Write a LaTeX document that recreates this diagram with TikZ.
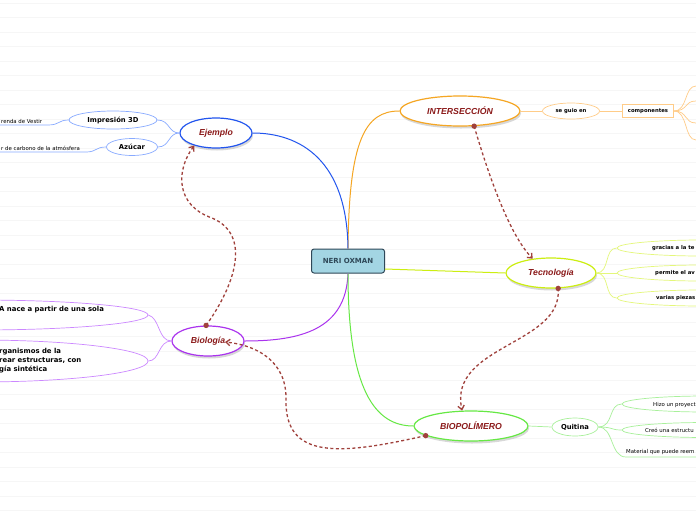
\documentclass[tikz,border=0pt]{standalone}
\usepackage{fontspec}
\setmainfont{DejaVu Sans}
\newfontfamily\topicfont{Liberation Sans}
\usepackage{tikz}
\usetikzlibrary{shapes.geometric,shadows,arrows.meta}

\definecolor{topicred}{HTML}{8B1A1A}
\definecolor{orangeline}{HTML}{F5A623}
\definecolor{orangelight}{HTML}{FFCC88}
\definecolor{limeline}{HTML}{CCEE11}
\definecolor{limelight}{HTML}{E4F77A}
\definecolor{greenline}{HTML}{66E844}
\definecolor{greenlight}{HTML}{A8F09A}
\definecolor{blueline}{HTML}{2255EE}
\definecolor{bluelight}{HTML}{88AAFF}
\definecolor{purpleline}{HTML}{AA33EE}
\definecolor{purplelight}{HTML}{CC88FF}
\definecolor{relred}{HTML}{A0413C}
\definecolor{rootfill}{HTML}{A3D5E3}
\definecolor{rootdraw}{HTML}{2F4858}

\begin{document}
\begin{tikzpicture}[x=1pt,y=-1pt,
  root/.style={rectangle,rounded corners=2.5,draw=rootdraw,line width=1,fill=rootfill,
    minimum width=73,minimum height=24,text=rootdraw,font=\bfseries\fontsize{7}{8}\selectfont},
  topic/.style={ellipse,fill=white,line width=1.2,inner sep=0pt,minimum height=30,text=topicred,
    font=\topicfont\bfseries\itshape\fontsize{8.7}{10}\selectfont,
    drop shadow={shadow xshift=1pt,shadow yshift=-2.5pt,opacity=0.3,fill=gray}},
  sub/.style={ellipse,fill=white,line width=0.7,inner sep=0pt,font=\bfseries\fontsize{6.8}{8}\selectfont},
  bigleaf/.style={ellipse,fill=white,line width=0.7,inner sep=0pt},
  leaf/.style={inner sep=1pt,font=\fontsize{5.4}{6.5}\selectfont},
  boldleaf/.style={inner sep=1pt,font=\bfseries\fontsize{5.3}{6.5}\selectfont},
  boldtext/.style={inner sep=0pt,align=left,font=\bfseries\fontsize{6.9}{9}\selectfont},
  branch/.style={line width=1},
  twig/.style={line width=0.7},
  relation/.style={draw=relred,line width=1.3,dash pattern=on 3pt off 2.5pt,
    arrows={-Straight Barb[length=4pt,width=6.5pt]}},
  reldot/.style={fill=relred}]

  \useasboundingbox (0,0) rectangle (696,520);
  \fill[white] (0,0) rectangle (696,520);
  \clip (0,0) rectangle (696,520);
  \foreach \ly in {3,17.5,...,520}
    \draw[gray!7,line width=0.6] (0,\ly) -- (696,\ly);

  \node[root] (neri) at (348,261) {NERI OXMAN};
  \node[topic,draw=orangeline,minimum width=120] (inter) at (460,111) {INTERSECCIÓN};
  \node[topic,draw=limeline,minimum width=90] (tecno) at (551,273) {Tecnología};
  \node[topic,draw=greenline,minimum width=114] (biopol) at (471,426) {BIOPOLÍMERO};
  \node[topic,draw=blueline,minimum width=72] (ejemplo) at (216,133) {Ejemplo};
  \node[topic,draw=purpleline,minimum width=72] (biologia) at (208,341) {Biología};

  \draw[branch,orangeline] (neri.north) .. controls (349,140) and (365,111) .. (inter.west);
  \draw[branch,blueline] (neri.north) .. controls (347,160) and (300,133) .. (ejemplo.east);
  \draw[branch,limeline] ([yshift=-8pt]neri.east) -- (tecno.west);
  \draw[branch,purpleline] (neri.south) .. controls (346,330) and (300,341) .. (biologia.east);
  \draw[branch,greenline] (neri.south) .. controls (348,390) and (375,426) .. (biopol.west);

  \node[sub,draw=orangelight,minimum width=57,minimum height=16,
    font=\bfseries\fontsize{5.3}{6.5}\selectfont] (guio) at (571,111) {se guio en};
  \node[rectangle,draw=orangelight,fill=white,line width=0.8,minimum width=51,minimum height=13,
    font=\bfseries\fontsize{5.3}{6.5}\selectfont] (comp) at (648,111) {componentes};
  \draw[twig,orangelight] (inter.east) -- (guio.west);
  \draw[twig,orangelight] (guio.east) -- (comp.west);
  \coordinate (comp1) at (696,86);
  \coordinate (comp2) at (696,101);
  \coordinate (comp3) at (696,123);
  \coordinate (comp4) at (696,140);
  \draw[twig,orangelight] (comp.east) .. controls (688,111) and (684,86) .. (comp1);
  \draw[twig,orangelight] (comp.east) .. controls (688,111) and (684,101) .. (comp2);
  \draw[twig,orangelight] (comp.east) .. controls (688,111) and (684,123) .. (comp3);
  \draw[twig,orangelight] (comp.east) .. controls (688,111) and (684,140) .. (comp4);

  \node[bigleaf,draw=limelight,minimum width=170,minimum height=16] (gracias) at (702,248) {};
  \node[bigleaf,draw=limelight,minimum width=170,minimum height=16] (permite) at (702,273) {};
  \node[bigleaf,draw=limelight,minimum width=170,minimum height=16] (piezas) at (702,298) {};
  \node[boldleaf,anchor=west] (graciastxt) at (651,248) {gracias a la te};
  \node[boldleaf,anchor=west] (permitetxt) at (654,273) {permite el av};
  \node[boldleaf,anchor=west] (piezastxt) at (655,298) {varias piezas};
  \draw[twig,limelight] (tecno.east) .. controls (610,273) and (604,248) .. (gracias.west);
  \draw[twig,limelight] (tecno.east) -- (permite.west);
  \draw[twig,limelight] (tecno.east) .. controls (610,273) and (604,298) .. (piezas.west);

  \node[sub,draw=greenlight,minimum width=46,minimum height=18] (quitina) at (575,427) {Quitina};
  \draw[twig,greenlight] (biopol.east) -- (quitina.west);
  \node[bigleaf,draw=greenlight,minimum width=168,minimum height=16] (proyecto) at (706,404) {};
  \node[bigleaf,draw=greenlight,minimum width=168,minimum height=15] (estructura) at (706,430) {};
  \node[leaf,anchor=west] (proyectotxt) at (652,405) {Hizo un proyect};
  \node[leaf,anchor=west] (estructuratxt) at (644,430) {Creó una estructu};
  \node[leaf,anchor=south west] (material) at (625,456) {Material que puede reem};
  \coordinate (materialend) at (696,457);
  \draw[twig,greenlight] (quitina.east) .. controls (614,427) and (608,404) .. (proyecto.west);
  \draw[twig,greenlight] (quitina.east) .. controls (614,427) and (610,430) .. (estructura.west);
  \draw[twig,greenlight] (quitina.east) .. controls (614,427) and (610,457) .. (626,457) -- (materialend);

  \node[sub,draw=bluelight,minimum width=88,minimum height=18] (impresion) at (113,120) {Impresión 3D};
  \node[sub,draw=bluelight,minimum width=51,minimum height=17] (azucar) at (132,147) {Azúcar};
  \draw[twig,bluelight] (ejemplo.west) .. controls (168,133) and (170,120) .. (impresion.east);
  \draw[twig,bluelight] (ejemplo.west) .. controls (168,133) and (170,147) .. (azucar.east);
  \node[leaf,anchor=south west] (vestir) at (0,125) {renda de Vestir};
  \node[leaf,anchor=south west] (carbono) at (0,152) {r de carbono de la atmósfera};
  \draw[twig,bluelight] (impresion.west) .. controls (58,120) and (60,125) .. (48,125) -- (vestir.south west);
  \draw[twig,bluelight] (azucar.west) .. controls (95,147) and (97,152) .. (86,152) -- (carbono.south west);

  \node[bigleaf,draw=purplelight,minimum width=340,minimum height=30] (celula) at (-22,315) {};
  \node[bigleaf,draw=purplelight,minimum width=340,minimum height=42] (organismos) at (-22,361) {};
  \node[boldtext,anchor=west] (celulatxt) at (-1,310) {A nace a partir de una sola};
  \node[boldtext,anchor=west] (organismostxt) at (-1,361) {rganismos de la\\rear estructuras, con\\gía sintética};
  \draw[twig,purplelight] (biologia.west) .. controls (158,341) and (160,318) .. (celula.east);
  \draw[twig,purplelight] (biologia.west) .. controls (158,341) and (160,361) .. (organismos.east);

  \draw[relation] (inter.-47) .. controls (490,180) and (510,235) .. (tecno.142);
  \draw[relation] (tecno.-65) .. controls (563,345) and (448,345) .. (biopol.120);
  \draw[relation] (biologia.97) .. controls (235,285) and (252,235) .. (212,218)
    .. controls (175,205) and (176,170) .. (ejemplo.-150);
  \draw[relation] (biopol.192) .. controls (340,455) and (285,460) .. (286,400)
    .. controls (287,360) and (255,345) .. ([xshift=17pt,yshift=-1pt]biologia.center);
  \fill[reldot] (inter.-47) circle (2.7);
  \fill[reldot] (tecno.-65) circle (2.7);
  \fill[reldot] (biologia.97) circle (2.7);
  \fill[reldot] (biopol.192) circle (2.7);
\end{tikzpicture}
\end{document}
